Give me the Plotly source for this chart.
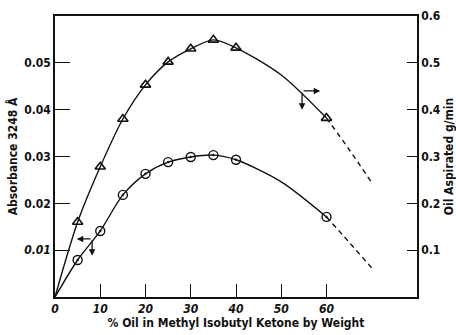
import plotly.graph_objects as go

# Data
conc = [5, 10, 15, 20, 25, 30, 35, 40, 60]
absorbance = [0.0079, 0.0141, 0.0218, 0.0263, 0.0288, 0.0299, 0.0303, 0.0293, 0.0171]
oil_rate = [0.160, 0.278, 0.380, 0.453, 0.502, 0.530, 0.549, 0.532, 0.382]
# drawn smooth curves
curve_x = [0, 5, 10, 15, 20, 25, 30, 35, 40, 50, 60]
curve_abs = [0, 0.0079, 0.0141, 0.0218, 0.0263, 0.0288, 0.0299, 0.0303, 0.0293, 0.0246, 0.0171]
curve_oil = [0, 0.160, 0.278, 0.380, 0.453, 0.502, 0.530, 0.549, 0.532, 0.474, 0.382]
# dashed extrapolation beyond the last point
ext_x = [60, 65, 70]
ext_abs = [0.0171, 0.0117, 0.0062]
ext_oil = [0.382, 0.315, 0.244]

x_ticks = [0, 10, 20, 30, 40, 50, 60]
left_ticks = [0.01, 0.02, 0.03, 0.04, 0.05]
left_labels = ["<i>0.01</i>", "0.02", "0.03", "0.04", "0.05"]
right_ticks = [0.1, 0.2, 0.3, 0.4, 0.5, 0.6]

FONT = "DejaVu Sans Condensed, sans-serif"
BLACK = "#111"

fig = go.Figure()
# absorbance (left axis)
fig.add_trace(go.Scatter(x=curve_x, y=curve_abs, mode="lines",
                         line=dict(color=BLACK, width=1.4, shape="spline", smoothing=0.8)))
fig.add_trace(go.Scatter(x=ext_x, y=ext_abs, mode="lines",
                         line=dict(color=BLACK, width=1.4, dash="5px,4px", shape="spline")))
fig.add_trace(go.Scatter(x=conc, y=absorbance, mode="markers",
                         marker=dict(symbol="circle-open-dot", size=9, color=BLACK,
                                     line=dict(width=1.4, color=BLACK))))
# oil aspirated (right axis)
fig.add_trace(go.Scatter(x=curve_x, y=curve_oil, mode="lines", yaxis="y2",
                         line=dict(color=BLACK, width=1.4, shape="spline", smoothing=0.8)))
fig.add_trace(go.Scatter(x=ext_x, y=ext_oil, mode="lines", yaxis="y2",
                         line=dict(color=BLACK, width=1.4, dash="5px,4px", shape="spline")))
fig.add_trace(go.Scatter(x=conc, y=oil_rate, mode="markers", yaxis="y2",
                         marker=dict(symbol="triangle-up-open", size=9, color=BLACK,
                                     line=dict(width=1.6, color=BLACK))))

# arrows indicating which axis each curve uses
arrows = [
    dict(x=4.8, y=0.0124, ax=8.2, ay=0.0124, xref="x", yref="y", axref="x", ayref="y"),
    dict(x=8.2, y=0.0088, ax=8.2, ay=0.0124, xref="x", yref="y", axref="x", ayref="y"),
    dict(x=58.6, y=0.44, ax=54.6, ay=0.44, xref="x", yref="y2", axref="x", ayref="y2"),
    dict(x=54.6, y=0.40, ax=54.6, ay=0.44, xref="x", yref="y2", axref="x", ayref="y2"),
]
for a in arrows:
    fig.add_annotation(**a, text="", showarrow=True, arrowhead=2, arrowsize=1,
                       arrowwidth=1.3, arrowcolor=BLACK)

tickfont = dict(family=FONT, size=12, color=BLACK, weight="bold")
titlefont = dict(family=FONT, size=12, color=BLACK, weight="bold")
fig.update_layout(
    width=456, height=335,
    margin=dict(l=55, r=39, t=16, b=38, autoexpand=False),
    paper_bgcolor="white", plot_bgcolor="white",
    showlegend=False,
    xaxis=dict(range=[0, 80], tickvals=x_ticks, ticktext=[str(v) for v in x_ticks],
               ticks="inside", ticklen=13, tickwidth=1.3, tickcolor=BLACK,
               showline=True, linecolor=BLACK, linewidth=1.5, mirror=True,
               showgrid=False, zeroline=False, automargin=False,
               tickfont=dict(family=FONT, size=12, color=BLACK, weight="bold", style="italic"),
               title=dict(text="% Oil in Methyl Isobutyl Ketone by Weight",
                          font=titlefont, standoff=0)),
    yaxis=dict(range=[0, 0.06], tickvals=left_ticks, ticktext=left_labels,
               ticks="inside", ticklen=15, tickwidth=1.3, tickcolor=BLACK,
               showline=True, linecolor=BLACK, linewidth=1.5,
               showgrid=False, zeroline=False, tickfont=tickfont, automargin=False,
               title=dict(text="Absorbance 3248 Å", font=titlefont, standoff=4)),
    yaxis2=dict(range=[0, 0.6], overlaying="y", side="right", tickvals=right_ticks,
                ticktext=["0.1", "0.2", "0.3", "0.4", "0.5", "0.6"],
                ticks="inside", ticklen=10, tickwidth=1.3, tickcolor=BLACK,
                showline=True, linecolor=BLACK, linewidth=1.5,
                showgrid=False, zeroline=False, tickfont=tickfont, automargin=False,
                title=dict(text="Oil Aspirated g/min", font=titlefont, standoff=12)),
)

fig.write_html("out.html")
